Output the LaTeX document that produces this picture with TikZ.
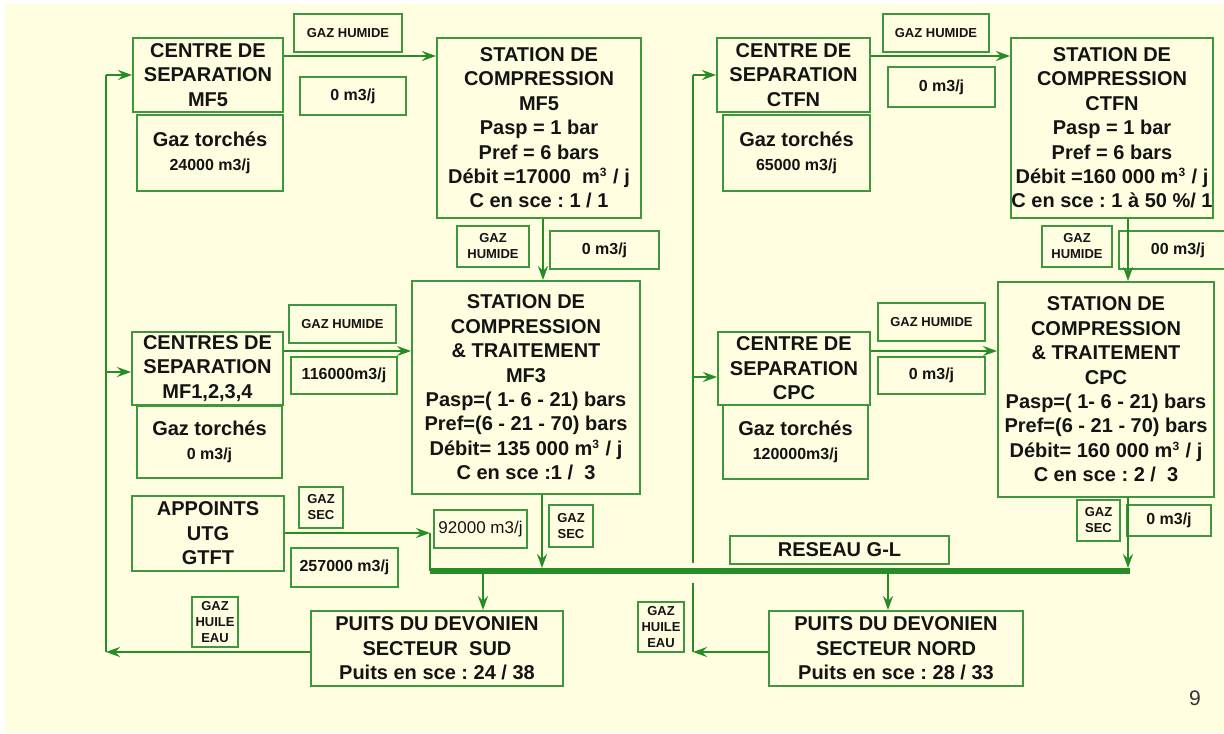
\documentclass[tikz,border=0pt]{standalone}
\usepackage{fontspec}
\setmainfont{Liberation Sans}
\usepackage{xcolor}
\usepackage{tikz}
\usetikzlibrary{arrows.meta}
\frenchspacing
\definecolor{fond}{RGB}{255,254,224}
\definecolor{vert}{RGB}{38,140,38}
\definecolor{bordvert}{RGB}{62,150,62}
\definecolor{encre}{RGB}{20,20,20}
\tikzstyle{bigbox}=[rectangle,draw=bordvert,line width=1pt,align=center,inner sep=0pt,text=encre,font=\bfseries\fontsize{10}{12.2}\selectfont]
\tikzstyle{tagbox}=[bigbox,font=\bfseries\fontsize{6.5}{8}\selectfont]
\tikzstyle{ratebox}=[bigbox,font=\bfseries\fontsize{8}{10}\selectfont]
\tikzstyle{flow} = [draw,line width=1pt,vert,-{Stealth[length=7pt,width=5pt,inset=2.5pt]}]
\tikzstyle{pipe} = [draw,line width=1pt,vert]
\tikzstyle{bus} = [draw,line width=3pt,vert]
\newcommand{\petit}[1]{{\fontsize{8}{12.2}\selectfont #1}}
\newcommand{\mcube}{\textsuperscript{\fontsize{6}{6}\selectfont 3}}

\begin{document}
\begin{tikzpicture}[x=0.5pt,y=-0.5pt]

 \useasboundingbox (0,0) rectangle (1224,733);
 \fill[white] (0,0) rectangle (1224,733);
 \fill[fond] (5,4) rectangle (1224,733);

 %Secteur Sud
  \foreach \x/\y/\w/\h/\name/\label in {208/75/150/74/sepMF5/{CENTRE DE\\SEPARATION\\MF5},
        210/153/146/76/torchMF5/{Gaz torchés\\\petit{24000 m3/j}},
        207.5/368.5/151/73/sepMF1/{CENTRES DE\\SEPARATION\\MF1,2,3,4},
        209.5/442/145/72/torchMF1/{Gaz torchés\\\petit{0 m3/j}},
        208/533.5/152/75/appoints/{APPOINTS\\UTG\\GTFT},
        437/648.5/252/75/puitsSud/{PUITS DU DEVONIEN\\SECTEUR~ SUD\\Puits en sce : 24 / 38}}
          \node[bigbox,minimum width=\w*0.5pt,minimum height=\h*0.5pt] (\name) at (\x,\y) {\label};

  \node[bigbox,minimum width=102pt,minimum height=90pt] (stMF5) at (539,128)
       {STATION DE\\COMPRESSION\\MF5\\Pasp = 1 bar\\Pref = 6 bars\\Débit =17000~ m\mcube{} / j\\C en sce : 1 / 1};
  \node[bigbox,minimum width=114pt,minimum height=106.5pt] (stMF3) at (526,387.5)
       {STATION DE\\COMPRESSION\\\& TRAITEMENT\\MF3\\Pasp=( 1- 6 - 21) bars\\Pref=(6 - 21 - 70) bars\\Débit= 135 000 m\mcube{} / j\\C en sce :1 /~ 3};

 %Secteur Nord
  \foreach \x/\y/\w/\h/\name/\label in {793.5/75/153/74/sepCTFN/{CENTRE DE\\SEPARATION\\CTFN},
        796.5/153/147/76/torchCTFN/{Gaz torchés\\\petit{65000 m3/j}},
        794/368.5/152/73/sepCPC/{CENTRE DE\\SEPARATION\\CPC},
        795.5/442/145/74/torchCPC/{Gaz torchés\\\petit{120000m3/j}},
        896/648.5/254/75/puitsNord/{PUITS DU DEVONIEN\\SECTEUR NORD\\Puits en sce : 28 / 33},
        839.5/550/219/28/reseau/{RESEAU G-L}}
          \node[bigbox,minimum width=\w*0.5pt,minimum height=\h*0.5pt] (\name) at (\x,\y) {\label};

  \node[bigbox,minimum width=101pt,minimum height=90pt] (stCTFN) at (1112,128)
       {STATION DE\\COMPRESSION\\CTFN\\Pasp = 1 bar\\Pref = 6 bars\\Débit =160 000 m\mcube{} / j\\C en sce : 1 à 50 \%/ 1};
  \node[bigbox,minimum width=108pt,minimum height=107.5pt] (stCPC) at (1106,389.5)
       {STATION DE\\COMPRESSION\\\& TRAITEMENT\\CPC\\Pasp=( 1- 6 - 21) bars\\Pref=(6 - 21 - 70) bars\\Débit= 160 000 m\mcube{} / j\\C en sce : 2 /~ 3};

 %etiquettes
  \foreach \x/\y/\w/\h/\name/\label in {348/33/108/38/humA/{GAZ HUMIDE}, 493/246.5/72/41/humB/{GAZ\\HUMIDE},
        342.5/324/107/38/humC/{GAZ HUMIDE}, 321/507.5/44/41/secA/{GAZ\\SEC}, 571/526/44/42/secB/{GAZ\\SEC},
        215/622/46/50/gheA/{GAZ\\HUILE\\EAU}, 936/33/106/38/humD/{GAZ HUMIDE}, 1077/246.5/70/41/humE/{GAZ\\HUMIDE},
        931.5/322/107/38/humF/{GAZ HUMIDE}, 1098.5/520.5/43/41/secC/{GAZ\\SEC}, 661/627/46/50/gheB/{GAZ\\HUILE\\EAU}}
          \node[tagbox,minimum width=\w*0.5pt,minimum height=\h*0.5pt] (\name) at (\x,\y) {\label};

 %debits
  \foreach \x/\y/\w/\h/\name/\label in {353/96/106/38/qA/{0 m3/j}, 604.5/250/109/38/qB/{0 m3/j},
        344/375.5/106/37/qC/{116000m3/j}, 344.5/567.5/107/39/qD/{257000 m3/j},
        941.5/87/107/40/qF/{0 m3/j}, 1178/250/118/38/qG/{00 m3/j},
        931.5/375.5/107/37/qH/{0 m3/j}, 1169/520.5/84/31/qI/{0 m3/j}}
          \node[ratebox,minimum width=\w*0.5pt,minimum height=\h*0.5pt] (\name) at (\x,\y) {\label};

  \node[bigbox,font=\fontsize{8.5}{10}\selectfont,minimum width=46.5pt,minimum height=19pt] (qE) at (480.5,529) {92000 m3/j};

 %reseau G-L
  \coordinate (busL) at (430,571);
  \coordinate (busR) at (1130,571);
  \coordinate (coude) at (430,533);
  \path[bus] (busL) -- (busR);

 %liaisons
  \path[flow] (sepMF5.east |- 0,56) -- (stMF5.west |- 0,56);
  \path[flow] (543,0 |- stMF5.south) -- (543,0 |- stMF3.north);
  \path[flow] (sepMF1.east |- 0,351) -- (stMF3.west |- 0,351);
  \path[flow,shorten >=1.5pt] (542,0 |- stMF3.south) -- (542,0 |- busL);
  \path[flow] (appoints.east |- coude) -- (coude);
  \path[pipe] (coude) -- (busL);
  \path[flow] (483,0 |- busL) -- (483,0 |- puitsSud.north);
  \path[flow] (888,0 |- busL) -- (888,0 |- puitsNord.north);

  \path[flow] (sepCTFN.east |- 0,56) -- (stCTFN.west |- 0,56);
  \path[flow] (1128,0 |- stCTFN.south) -- (1128,0 |- stCPC.north);
  \path[flow] (sepCPC.east |- 0,351) -- (stCPC.west |- 0,351);
  \path[flow,shorten >=1.5pt] (1128,0 |- stCPC.south) -- (1128,0 |- busR);

 %retours gaz huile eau
  \coordinate (retS) at (106,652);
  \coordinate (topS) at (106,75);
  \path[flow] (puitsSud.west |- retS) -- (retS);
  \path[pipe] (retS) -- (topS);
  \path[flow] (topS) -- (sepMF5.west |- topS);
  \path[flow] (106,372) -- (sepMF1.west |- 0,372);

  \coordinate (retN) at (693,652);
  \coordinate (topN) at (693,75);
  \path[flow] (puitsNord.west |- retN) -- (retN);
  \path[pipe] (retN) -- (693,583);
  \path[pipe] (693,563) -- (topN);
  \path[flow] (topN) -- (sepCTFN.west |- topN);
  \path[flow] (693,377) -- (sepCPC.west |- 0,377);

  \node[text=black!80,font=\fontsize{10.5}{12}\selectfont] (page) at (1195,698) {9};

\end{tikzpicture}
\end{document}
